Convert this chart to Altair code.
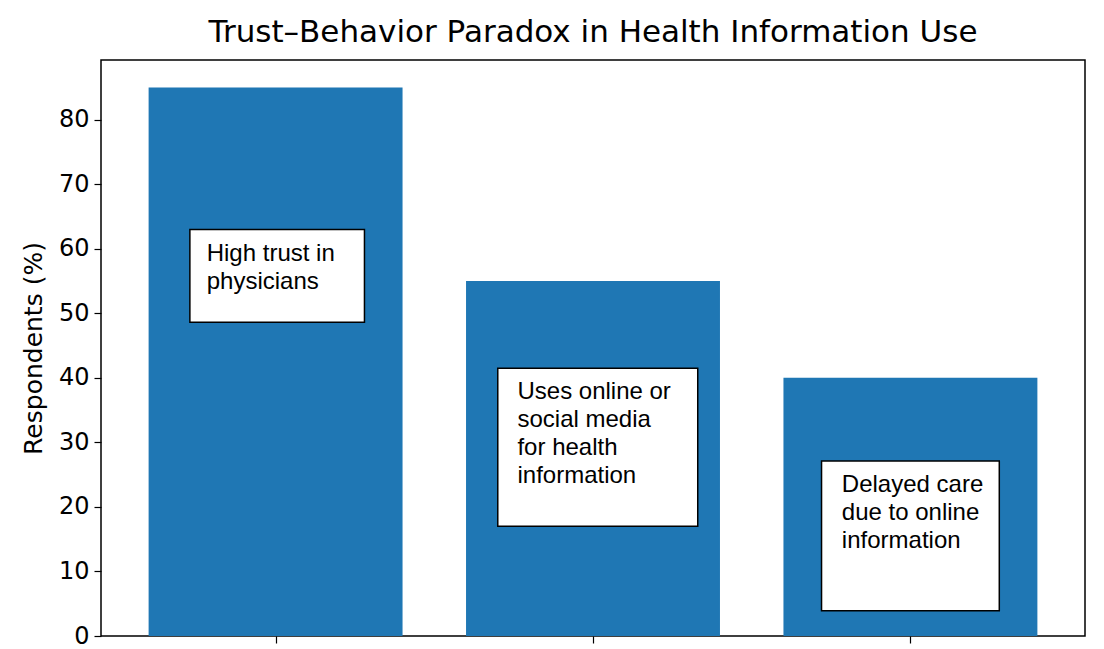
import altair as alt
import pandas as pd

categories = ["High trust in physicians",
              "Uses online or social media for health information",
              "Delayed care due to online information"]
positions = [0, 1, 2]
values = [85, 55, 40]

# annotation boxes (data units): x0, x1, y0, y1 and text anchor
box_x0 = [-0.27, 0.70, 1.72]
box_x1 = [0.28, 1.33, 2.28]
box_y0 = [48.6, 17.0, 3.9]
box_y1 = [63.0, 41.5, 27.1]
text_x = [-0.217, 0.762, 1.784]
text_y = [61.1, 39.7, 25.3]
text_lines = [["High trust in", "physicians"],
              ["Uses online or", "social media", "for health", "information"],
              ["Delayed care", "due to online", "information"]]

bars = pd.DataFrame({"category": categories, "pos": positions, "value": values})
boxes = pd.DataFrame({"x0": box_x0, "x1": box_x1, "y0": box_y0, "y1": box_y1})
texts = pd.DataFrame({"tx": text_x, "ty": text_y, "label": text_lines})

xscale = alt.Scale(domain=[-0.55, 2.55], nice=False, zero=False)
yscale = alt.Scale(domain=[0, 89.25], nice=False)

bar_layer = alt.Chart(bars).transform_calculate(
    x0="datum.pos - 0.4", x1="datum.pos + 0.4"
).mark_bar(color="#1f77b4").encode(
    x=alt.X("x0:Q", scale=xscale,
            axis=alt.Axis(values=positions, labels=False, title=None, grid=False,
                          domain=False, tickColor="black", tickSize=7, tickWidth=1.2)),
    x2="x1:Q",
    y=alt.Y("value:Q", scale=yscale,
            axis=alt.Axis(values=list(range(0, 90, 10)), title="Respondents (%)",
                          grid=False, domain=False, tickColor="black", tickSize=7,
                          tickWidth=1.2, labelFont="DejaVu Sans", labelFontSize=24,
                          labelColor="black", labelPadding=5,
                          titleFont="DejaVu Sans", titleFontSize=25,
                          titleFontWeight="normal", titleColor="black", titlePadding=12)),
    y2=alt.datum(0),
)

box_layer = alt.Chart(boxes).mark_rect(fill="white", stroke="black", strokeWidth=1.5).encode(
    x=alt.X("x0:Q", scale=xscale), x2="x1:Q",
    y=alt.Y("y0:Q", scale=yscale), y2="y1:Q",
)

text_layer = alt.Chart(texts).mark_text(
    align="left", baseline="top", font="Liberation Sans", fontSize=24,
    lineHeight=28, color="black"
).encode(
    x=alt.X("tx:Q", scale=xscale),
    y=alt.Y("ty:Q", scale=yscale),
    text="label",
)

chart = alt.layer(bar_layer, box_layer, text_layer).properties(
    width=984, height=576,
    title=alt.TitleParams("Trust–Behavior Paradox in Health Information Use",
                          font="DejaVu Sans", fontSize=31, fontWeight="normal",
                          color="black", offset=11),
    autosize=alt.AutoSizeParams(type="none"),
    padding={"left": 93, "top": 52, "right": 10, "bottom": 14},
).configure_view(stroke="black", strokeWidth=1.5)

chart.save("out.html", embed_options={"renderer": "svg", "actions": False})
